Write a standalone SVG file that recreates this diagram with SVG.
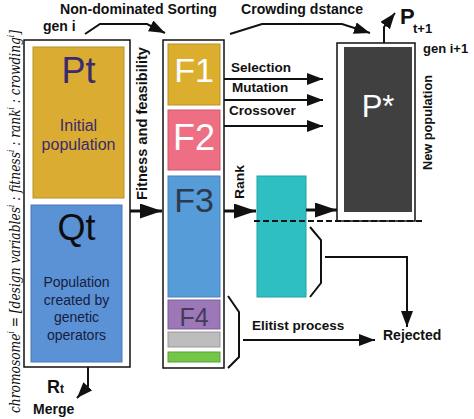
<svg xmlns="http://www.w3.org/2000/svg" width="474" height="419" viewBox="0 0 474 419">
<style>
.lbl{font-family:"Liberation Sans",Arial,sans-serif;font-weight:bold;fill:#111}
.big{font-family:"Liberation Sans",Arial,sans-serif}
.frame{fill:#fff;stroke:#111;stroke-width:1.5}
.ln{fill:none;stroke:#111;stroke-width:2}
.thick{fill:none;stroke:#111;stroke-width:3}
</style>
<defs>
<marker id="big" markerUnits="userSpaceOnUse" markerWidth="24" markerHeight="16" refX="22" refY="7.5" orient="auto"><path d="M0,0 L22,7.5 L0,15 z" fill="#111"/></marker>
<marker id="med" markerUnits="userSpaceOnUse" markerWidth="18" markerHeight="14" refX="16" refY="6" orient="auto"><path d="M0,0 L16,6 L0,12 z" fill="#111"/></marker>
</defs>

<text transform="translate(20,413) rotate(-90)" textLength="383" lengthAdjust="spacingAndGlyphs" style="font-family:'DejaVu Serif','Liberation Serif',serif;font-style:italic;font-size:15px;fill:#111">chromosome<tspan dy="-6" font-size="9">i</tspan><tspan dy="6"> = [design variables</tspan><tspan dy="-6" font-size="9">i</tspan><tspan dy="6"> : fitness</tspan><tspan dy="-6" font-size="9">i</tspan><tspan dy="6"> : rank</tspan><tspan dy="-6" font-size="9">i</tspan><tspan dy="6"> : crowding</tspan><tspan dy="-6" font-size="9">i</tspan><tspan dy="6">]</tspan></text>

<text class="lbl" x="60" y="14" font-size="14" textLength="157" lengthAdjust="spacingAndGlyphs">Non-dominated Sorting</text>
<text class="lbl" x="43" y="31" font-size="14">gen i</text>
<text class="lbl" x="241" y="14" font-size="14" textLength="122" lengthAdjust="spacingAndGlyphs">Crowding dstance</text>

<g id="left-population">
<rect class="frame" x="24" y="40" width="106" height="327"/>
<g id="Pt">
<rect x="33" y="47" width="91" height="151" fill="#dbac32" stroke="#b8902a" stroke-width="1"/>
<text class="big" x="78.5" y="83" font-size="36" text-anchor="middle" fill="#3a2a6e">Pt</text>
<text class="big" x="78.5" y="131" font-size="16" text-anchor="middle" fill="#3a2a6e">Initial</text>
<text class="big" x="78.5" y="150" font-size="16" text-anchor="middle" fill="#3a2a6e">population</text>
</g>
<g id="Qt">
<rect x="31" y="205" width="91" height="157" fill="#5b91d5" stroke="#4a78b5" stroke-width="1"/>
<text class="big" x="76.5" y="240" font-size="36" text-anchor="middle" fill="#0d0d0d">Qt</text>
<text class="big" x="76.5" y="287" font-size="14" text-anchor="middle" fill="#152040">Population</text>
<text class="big" x="76.5" y="305" font-size="14" text-anchor="middle" fill="#152040">created by</text>
<text class="big" x="76.5" y="322" font-size="14" text-anchor="middle" fill="#152040">genetic</text>
<text class="big" x="76.5" y="340" font-size="14" text-anchor="middle" fill="#152040">operators</text>
</g>
</g>

<g id="Rt">
<text class="lbl" x="47" y="393" font-size="18">R<tspan font-size="12">t</tspan></text>
<text class="lbl" x="33" y="414" font-size="14">Merge</text>
</g>

<text class="lbl" transform="translate(147,200) rotate(-90)" font-size="14" textLength="153" lengthAdjust="spacingAndGlyphs">Fitness and feasibility</text>

<g id="fronts">
<rect class="frame" x="163" y="40" width="61" height="328"/>
<g id="F1"><rect x="168" y="44" width="52" height="61" fill="#dcae2e" stroke="#b8902a" stroke-width="1"/>
<text class="big" x="194" y="82" font-size="34" text-anchor="middle" fill="#fff">F1</text></g>
<g id="F2"><rect x="168" y="110" width="52" height="60" fill="#ee6e83" stroke="#c85a6a" stroke-width="1"/>
<text class="big" x="194" y="150" font-size="36" text-anchor="middle" fill="#fff">F2</text></g>
<g id="F3"><rect x="168" y="176" width="52" height="121" fill="#569cd8" stroke="#4a84b8" stroke-width="1"/>
<text class="big" x="194" y="212" font-size="34" text-anchor="middle" fill="#2d3a4e">F3</text></g>
<g id="F4"><rect x="168" y="300" width="52" height="29" fill="#9c78b8" stroke="#7e5f98" stroke-width="1"/>
<text class="big" x="194" y="326" font-size="25" text-anchor="middle" fill="#463a58">F4</text></g>
<g id="F5"><rect x="168" y="332" width="52" height="15" fill="#bdbdbd" stroke="#999" stroke-width="1"/></g>
<g id="F6"><rect x="168" y="352" width="52" height="10" fill="#74c646" stroke="#5ca038" stroke-width="1"/></g>
</g>

<g id="labels-ops">
<text class="lbl" x="231" y="72" font-size="13.5">Selection</text>
<text class="lbl" x="232" y="92" font-size="13.5">Mutation</text>
<text class="lbl" x="229" y="115" font-size="13.5">Crossover</text>
<text class="lbl" transform="translate(244,199) rotate(-90)" font-size="13" textLength="34" lengthAdjust="spacingAndGlyphs">Rank</text>
</g>

<g id="rank-box"><rect x="257" y="176" width="49" height="121" fill="#2ebfc2" stroke="#25a0a3" stroke-width="1"/></g>

<g id="new-population">
<rect class="frame" x="337" y="43" width="78" height="178"/>
<rect x="344" y="47" width="68" height="165" fill="#404040"/>
<text class="big" x="378" y="117" font-size="31" text-anchor="middle" fill="#fff">P*</text>
<text class="lbl" x="423" y="53" font-size="13">gen i+1</text>
<text class="lbl" transform="translate(432,170) rotate(-90)" font-size="13" textLength="95" lengthAdjust="spacingAndGlyphs">New population</text>
<text class="lbl" x="400" y="24" font-size="22">P</text>
<text class="lbl" x="413" y="33" font-size="13">t+1</text>
</g>

<g id="rejected"><text class="lbl" x="383" y="340" font-size="14">Rejected</text></g>
<text class="lbl" x="252" y="330" font-size="13.5">Elitist process</text>

<g id="connectors">
<polyline class="ln" points="85,34 100,24 147,24 165,33" marker-end="url(#med)"/>
<polyline class="ln" points="230,34 262,24 342,24 370,33" marker-end="url(#med)"/>
<line class="thick" x1="130" y1="211" x2="162" y2="211" marker-end="url(#big)"/>
<line class="thick" x1="224" y1="211" x2="256" y2="211" marker-end="url(#big)"/>
<line class="thick" x1="306" y1="210" x2="337" y2="210" marker-end="url(#big)"/>
<line class="ln" x1="224" y1="79" x2="323" y2="79" marker-end="url(#med)"/>
<line class="ln" x1="224" y1="100" x2="323" y2="100" marker-end="url(#med)"/>
<line class="ln" x1="224" y1="126" x2="323" y2="126" marker-end="url(#med)"/>
<line x1="254" y1="221" x2="423" y2="221" stroke="#111" stroke-width="2" stroke-dasharray="6,3"/>
<polyline class="ln" points="310,227 321,240 321,283 310,297"/>
<polyline class="ln" points="325,257 407,257 407,327" marker-end="url(#med)"/>
<polyline class="ln" points="228,296 239,312 239,357 228,368"/>
<line class="ln" x1="243" y1="340" x2="375" y2="340" marker-end="url(#med)"/>
<polyline class="ln" points="88,367 88,386 77,398" marker-end="url(#med)"/>
<polyline class="ln" points="384,43 384,27 395,13" marker-end="url(#med)"/>
</g>
</svg>
